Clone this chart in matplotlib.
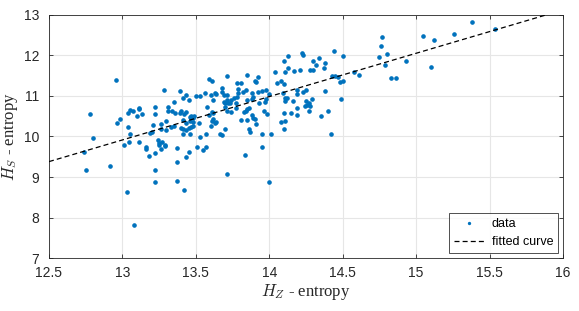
import numpy as np
import matplotlib
matplotlib.use("Agg")
import matplotlib.pyplot as plt

# ---- data ----
hz = [12.954, 12.78, 12.80, 12.965, 12.986, 13.04, 13.05, 13.044, 13.01, 13.04, 13.055, 13.074,
      13.11, 13.11, 13.10, 13.13, 13.11, 13.16, 13.22, 13.22, 13.26, 13.21, 13.19, 13.20,
      13.24, 13.25, 13.25, 13.27, 13.28,
      12.74, 12.755, 12.915, 13.16, 13.18, 13.22, 13.26, 13.29, 13.22, 13.22, 13.03, 13.076,
      13.31, 13.31, 13.30, 13.34, 13.36, 13.35, 13.39, 13.41, 13.43, 13.45, 13.40, 13.39,
      13.43, 13.42, 13.41, 13.46, 13.47, 13.49, 13.48, 13.48, 13.46, 13.43, 13.52,
      13.50, 13.53, 13.56, 13.575, 13.59, 13.61, 13.60, 13.62, 13.63, 13.64, 13.61, 13.62,
      13.59, 13.61, 13.62, 13.64, 13.63, 13.68, 13.68, 13.69, 13.71, 13.71, 13.69, 13.70,
      13.71, 13.70, 13.72, 13.73, 13.74, 13.76, 13.78, 13.74, 13.71, 13.79, 13.79,
      13.30, 13.26, 13.33, 13.35, 13.40, 13.41, 13.41, 13.43, 13.45, 13.47, 13.48, 13.46, 13.70,
      13.29, 13.37, 13.455, 13.43, 13.37, 13.53, 13.57, 13.60, 13.51, 13.55, 13.57, 13.665,
      13.68, 13.37, 13.42, 13.71,
      13.85, 13.78, 13.81, 13.82, 13.84, 13.90, 13.91, 13.92, 13.88, 13.92, 13.95, 13.975,
      13.88, 13.89, 13.93, 13.85, 13.77, 14.00, 13.98, 13.97,
      14.04, 14.05, 14.08, 14.10, 14.09, 14.11, 14.12, 14.10, 14.11, 14.13, 14.13, 14.17,
      14.21, 14.22, 14.23, 14.19, 14.19, 14.16, 14.23, 14.25, 14.11, 14.25, 14.27, 14.26,
      13.77, 13.81, 13.83, 13.84, 13.85, 13.85, 13.86, 13.86, 13.87, 13.88, 13.89, 13.90,
      13.91, 13.95, 13.965, 13.985, 14.015, 13.95, 13.835, 14.00, 14.10, 14.08, 14.11, 14.15,
      14.19, 14.19, 14.10, 14.24, 14.28, 14.27,
      14.44, 14.50, 14.34, 14.30, 14.32, 14.38, 14.37, 14.28, 14.30, 14.43, 14.445, 14.465,
      14.48, 14.50, 14.58, 14.61, 14.38, 14.49, 14.29, 14.77, 14.76, 14.75, 14.80, 14.79,
      14.35, 14.40, 14.42,
      15.045, 15.12, 15.26, 14.93, 15.10, 14.83, 14.86,
      15.38, 15.54]
hs = [11.40, 10.56, 9.96, 10.34, 10.44, 10.24, 10.07, 9.86, 9.79, 10.59, 10.65, 10.64,
      10.71, 10.67, 10.51, 10.56, 9.86, 9.73, 10.72, 10.56, 10.32, 10.28, 10.08, 10.11,
      9.92, 9.85, 9.79, 9.87, 11.15,
      9.62, 9.18, 9.28, 9.69, 9.52, 9.59, 9.68, 9.77, 9.17, 8.88, 8.64, 7.82,
      10.73, 10.64, 10.38, 10.64, 10.58, 10.86, 11.12, 10.95, 11.02, 10.89, 10.64, 10.59,
      10.60, 10.56, 10.41, 10.49, 10.51, 10.51, 10.45, 10.37, 10.39, 10.33, 10.33,
      11.00, 11.00, 11.08, 10.72, 11.41, 11.36, 11.02, 10.90, 11.08, 11.04, 10.61, 10.57,
      10.53, 10.39, 10.42, 10.37, 10.33, 11.20, 11.11, 11.02, 11.03, 10.89, 10.86, 10.83,
      11.50, 10.74, 10.83, 10.82, 10.89, 10.95, 10.97, 10.61, 10.64, 11.17, 11.07,
      10.17, 10.18, 10.24, 10.27, 10.22, 10.05, 10.19, 10.15, 10.22, 10.24, 10.25, 10.07, 10.19,
      9.79, 9.71, 9.61, 9.50, 9.38, 9.99, 10.06, 10.27, 9.73, 9.67, 9.75, 10.06,
      10.04, 8.91, 8.68, 9.07,
      11.51, 11.33, 11.33, 11.11, 11.15, 11.38, 11.35, 11.46, 11.08, 11.11, 11.13, 11.15,
      10.93, 10.98, 10.83, 10.91, 10.82, 11.05, 10.92, 10.85,
      11.59, 11.31, 11.38, 11.30, 11.07, 10.94, 10.95, 11.86, 11.60, 11.68, 11.99, 11.62,
      11.64, 12.06, 12.02, 11.15, 11.05, 10.88, 11.09, 11.15, 10.88, 10.87, 10.83, 10.77,
      10.70, 10.41, 10.60, 10.63, 10.68, 10.41, 10.71, 10.19, 10.12, 10.53, 10.46, 10.43,
      10.31, 10.06, 10.64, 10.56, 10.06, 9.75, 9.54, 8.88, 10.57, 10.36, 10.39, 10.57,
      10.54, 10.71, 10.19, 10.76, 10.76, 10.63,
      12.12, 11.98, 11.95, 11.86, 11.77, 11.81, 11.69, 11.64, 11.64, 11.49, 11.49, 11.47,
      11.34, 11.36, 11.59, 11.52, 11.13, 10.93, 10.93, 12.46, 12.24, 11.97, 12.03, 11.77,
      10.51, 10.63, 10.06,
      12.48, 12.38, 12.54, 11.86, 11.72, 11.44, 11.44,
      12.83, 12.65]

fit_slope = 1.07
fit_intercept = 9.38 - 1.07 * 12.5

xticks = [12.5, 13, 13.5, 14, 14.5, 15, 15.5, 16]
xticklabels = ['12.5', '13', '13.5', '14', '14.5', '15', '15.5', '16']
yticks = [7, 8, 9, 10, 11, 12, 13]

# ---- figure ----
plt.rcParams['font.family'] = ['Liberation Sans', 'DejaVu Sans']
plt.rcParams['mathtext.fontset'] = 'cm'

fig = plt.figure(figsize=(5.79, 3.11), dpi=100)
ax = fig.add_axes([0.0846, 0.1704, 0.8878, 0.7814])

blue = '#0072BD'
ax.plot(hz, hs, 'o', ms=2.3, color=blue, mec=blue, ls='none', label='data', zorder=3)
xl = np.array([12.5, 16.0])
ax.plot(xl, fit_slope * xl + fit_intercept, '--', color='black', lw=0.9,
        dashes=(4, 2.5), label='fitted curve', zorder=4)

ax.set_xlim(12.5, 16)
ax.set_ylim(7, 13)
ax.set_xticks(xticks)
ax.set_xticklabels(xticklabels)
ax.set_yticks(yticks)
ax.grid(True, color='#e6e6e6', lw=0.8)
ax.set_axisbelow(True)
for s in ax.spines.values():
    s.set_color('#262626')
    s.set_linewidth(0.6)
ax.tick_params(direction='in', length=3, width=0.6, color='#262626',
               labelsize=10, labelcolor='#262626', top=True, right=True)
ax.tick_params(axis='x', pad=6)
ax.tick_params(axis='y', pad=7)

ax.set_xlabel(r'$H_Z$ - entropy', fontsize=12, family=['Liberation Serif', 'DejaVu Serif'],
              color='#262626', labelpad=1)
ax.set_ylabel(r'$H_S$ - entropy', fontsize=12, family=['Liberation Serif', 'DejaVu Serif'],
              color='#262626', labelpad=3)

leg = ax.legend(loc='lower right', fontsize=9, frameon=True, fancybox=False,
                edgecolor='black', handlelength=2.4, borderpad=0.4, labelspacing=0.45,
                handletextpad=0.6, borderaxespad=0.4, markerscale=0.6)
leg.get_frame().set_linewidth(0.6)

fig.savefig('out.png', dpi=100)
